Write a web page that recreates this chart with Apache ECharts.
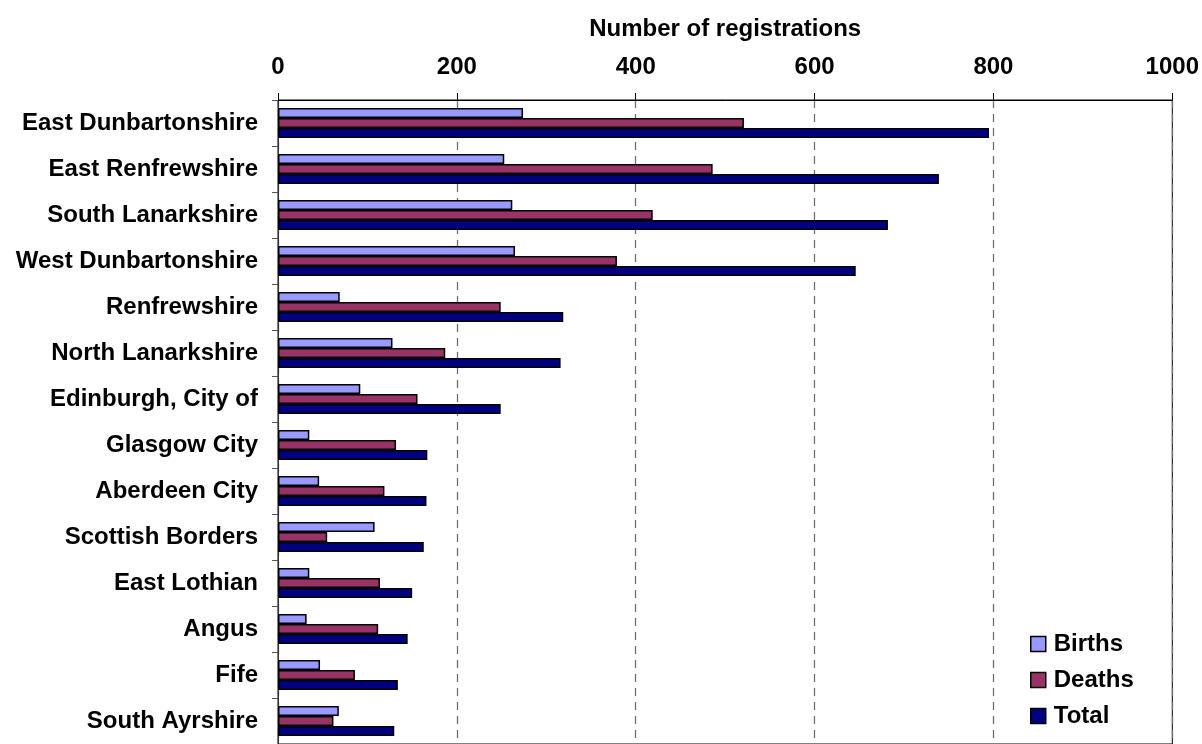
<!DOCTYPE html>
<html>
<head>
<meta charset="utf-8">
<script src="https://cdn.jsdelivr.net/npm/echarts@6/dist/echarts.min.js"></script>
<style>
html,body{margin:0;padding:0;background:#fff;}
#chart{width:1202px;height:744px;}
</style>
</head>
<body>
<div id="chart"></div>
<script>
const categories = ["East Dunbartonshire","East Renfrewshire","South Lanarkshire","West Dunbartonshire","Renfrewshire","North Lanarkshire","Edinburgh, City of","Glasgow City","Aberdeen City","Scottish Borders","East Lothian","Angus","Fife","South Ayrshire"];
const births = [274,253,262,265,69,128,92,35,46,108,35,32,47,68];
const deaths = [521,486,419,379,249,187,156,132,119,55,114,112,86,62];
const totals = [795,739,682,646,319,316,249,167,166,163,150,145,134,130];
const xTicks = {min:0, max:1000, interval:200};

const FONT = '"Liberation Sans", Arial, sans-serif';
const chart = echarts.init(document.getElementById('chart'), null, {renderer:'canvas'});
const barStyle = (c) => ({color:c, borderColor:'#000', borderWidth:1.5});
chart.setOption({
  animation:false,
  backgroundColor:'#fff',
  grid:{left:278, top:100, width:896, height:651, show:true, borderColor:'#000', borderWidth:1, backgroundColor:'transparent'},
  legend:{
    orient:'vertical', left:1030, top:632, padding:0, itemWidth:15, itemHeight:15, itemGap:12,
    icon:'rect',
    itemStyle:{borderColor:'#000', borderWidth:1.5},
    textStyle:{fontFamily:FONT, fontWeight:'bold', fontSize:24, color:'#000', lineHeight:23, padding:[0,0,0,3]},
    data:['Births','Deaths','Total']
  },
  xAxis:{
    type:'value', position:'top', min:xTicks.min, max:xTicks.max, interval:xTicks.interval,
    name:'Number of registrations', nameLocation:'middle', nameGap:59,
    nameTextStyle:{fontFamily:FONT, fontWeight:'bold', fontSize:24, color:'#000', lineHeight:23},
    axisLine:{show:true, lineStyle:{color:'#000', width:1}},
    axisTick:{show:true, length:7, lineStyle:{color:'#000'}},
    axisLabel:{fontFamily:FONT, fontWeight:'bold', fontSize:24, color:'#000', margin:21, lineHeight:23, formatter:(v)=>String(v)},
    splitLine:{show:true, lineStyle:{color:'#707070', type:[8,6], width:1.3}}
  },
  yAxis:{
    type:'category', inverse:true, data:categories,
    axisLine:{show:true, lineStyle:{color:'#333', width:1}},
    axisTick:{show:true, length:6, lineStyle:{color:'#555'}},
    axisLabel:{fontFamily:FONT, fontWeight:'bold', fontSize:24, color:'#000', margin:20}
  },
  series:[
    {name:'Births', type:'bar', data:births, barWidth:10, barGap:'0%', itemStyle:barStyle('#9999FF')},
    {name:'Deaths', type:'bar', data:deaths, barWidth:10, barGap:'0%', itemStyle:barStyle('#993366')},
    {name:'Total', type:'bar', data:totals, barWidth:10, barGap:'0%', itemStyle:barStyle('#000080')}
  ]
});
</script>
</body>
</html>
